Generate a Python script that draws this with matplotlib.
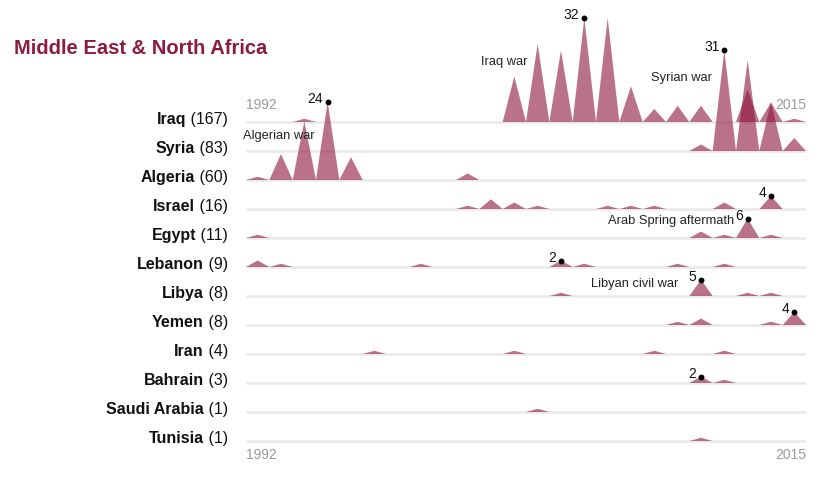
import matplotlib
matplotlib.use("Agg")
import matplotlib.pyplot as plt

plt.rcParams['font.family'] = ['Liberation Sans', 'DejaVu Sans']

# ---------------- data ----------------
years = list(range(1992, 2016))
countries = ["Iraq", "Syria", "Algeria", "Israel", "Egypt", "Lebanon",
             "Libya", "Yemen", "Iran", "Bahrain", "Saudi Arabia", "Tunisia"]
totals = [167, 83, 60, 16, 11, 9, 8, 8, 4, 3, 1, 1]

#          92 93 94 95 96 97 98 99 00 01 02 03 04 05 06 07 08 09 10 11 12 13 14 15
iraq    = [0, 0, 1, 0, 0, 0, 0, 0, 0, 0, 0, 14, 24, 22, 32, 32, 11, 4, 5, 5, 0, 10, 6, 1]
syria   = [0, 0, 0, 0, 0, 0, 0, 0, 0, 0, 0, 0, 0, 0, 0, 0, 0, 0, 0, 2, 31, 28, 15, 4]
algeria = [1, 8, 18, 24, 7, 0, 0, 0, 0, 2, 0, 0, 0, 0, 0, 0, 0, 0, 0, 0, 0, 0, 0, 0]
israel  = [0, 0, 0, 0, 0, 0, 0, 0, 0, 1, 3, 2, 1, 0, 0, 1, 1, 1, 0, 0, 2, 0, 4, 0]
egypt   = [1, 0, 0, 0, 0, 0, 0, 0, 0, 0, 0, 0, 0, 0, 0, 0, 0, 0, 0, 2, 1, 6, 1, 0]
lebanon = [2, 1, 0, 0, 0, 0, 0, 1, 0, 0, 0, 0, 0, 2, 1, 0, 0, 0, 1, 0, 1, 0, 0, 0]
libya   = [0, 0, 0, 0, 0, 0, 0, 0, 0, 0, 0, 0, 0, 1, 0, 0, 0, 0, 0, 5, 0, 1, 1, 0]
yemen   = [0, 0, 0, 0, 0, 0, 0, 0, 0, 0, 0, 0, 0, 0, 0, 0, 0, 0, 1, 2, 0, 0, 1, 4]
iran    = [0, 0, 0, 0, 0, 1, 0, 0, 0, 0, 0, 1, 0, 0, 0, 0, 0, 1, 0, 0, 1, 0, 0, 0]
bahrain = [0, 0, 0, 0, 0, 0, 0, 0, 0, 0, 0, 0, 0, 0, 0, 0, 0, 0, 0, 2, 1, 0, 0, 0]
saudi   = [0, 0, 0, 0, 0, 0, 0, 0, 0, 0, 0, 0, 1, 0, 0, 0, 0, 0, 0, 0, 0, 0, 0, 0]
tunisia = [0, 0, 0, 0, 0, 0, 0, 0, 0, 0, 0, 0, 0, 0, 0, 0, 0, 0, 0, 1, 0, 0, 0, 0]
series = [iraq, syria, algeria, israel, egypt, lebanon, libya, yemen,
          iran, bahrain, saudi, tunisia]

# highlighted peaks (country, year)
peaks = [("Algeria", 1995), ("Iraq", 2006), ("Syria", 2012), ("Israel", 2014),
         ("Egypt", 2013), ("Lebanon", 2005), ("Libya", 2011), ("Yemen", 2015),
         ("Bahrain", 2011)]

notes = ["Iraq war", "Syrian war", "Algerian war", "Arab Spring aftermath",
         "Libyan civil war"]

# ---------------- layout ----------------
W, H = 826, 478
fig = plt.figure(figsize=(W / 100, H / 100), dpi=100)
X0, X1 = 246, 806
PXU = 3.25          # pixels per unit
ROW0, ROWSTEP = 122, 29

ax = fig.add_axes([X0 / W, 0, (X1 - X0) / W, 1])
ax.set_xlim(years[0] - 0.5, years[-1] + 0.5)
ax.set_ylim(0, H / PXU)
ax.axis('off')

SP = (X1 - X0) / len(years)


def fx(px):
    return years[0] - 0.5 + (px - X0) / SP


def fy(py):
    return (H - py) / PXU


TRI = (0.55, 0.08, 0.24)
ALPHA = 0.6
GRID = '#e9e9e9'

bases = {}
for i, (name, vals) in enumerate(zip(countries, series)):
    py = ROW0 + ROWSTEP * i
    b = fy(py)
    bases[name] = b
    ax.plot([years[0] - 0.5, years[-1] + 0.5], [b, b], color=GRID, lw=1.8,
            zorder=1, solid_capstyle='butt')
    for yr, v in zip(years, vals):
        if v > 0:
            ax.fill([yr - 0.5, yr, yr + 0.5], [b, b + v, b], color=TRI,
                    alpha=ALPHA, lw=0, zorder=2)

# peak dots and numbers
for name, yr in peaks:
    v = series[countries.index(name)][years.index(yr)]
    b = bases[name]
    ax.plot([yr], [b + v], 'o', color='black', ms=3.2, zorder=5)
    ax.annotate(str(v), (yr, b + v), xytext=(-5, 3), textcoords='offset pixels',
                ha='right', va='center', fontsize=10, color='#111111', zorder=6)

# text notes
note_pos = {"Iraq war": (481, 62), "Syrian war": (651, 78),
            "Algerian war": (243, 136), "Arab Spring aftermath": (608, 221),
            "Libyan civil war": (591, 284)}
for n in notes:
    px, py = note_pos[n]
    ax.text(fx(px), fy(py), n, ha='left', va='center', fontsize=9.3,
            color='#222222', zorder=6, clip_on=False)

# year labels
for py in (105, 455):
    ax.text(fx(X0), fy(py), str(years[0]), ha='left', va='center',
            fontsize=10, color='#9a9a9a')
    ax.text(fx(X1), fy(py), str(years[-1]), ha='right', va='center',
            fontsize=10, color='#9a9a9a')

# title
fig.text(14 / W, 1 - 48 / H, "Middle East & North Africa", ha='left',
         va='center', fontsize=14.5, fontweight='bold', color='#8c1b3f')

# country labels
r = fig.canvas.get_renderer()
for i, (name, tot) in enumerate(zip(countries, totals)):
    py = ROW0 + ROWSTEP * i - 2.5
    t = fig.text(228 / W, 1 - py / H, f"\u00a0({tot})", ha='right', va='center',
                 fontsize=11.5, color='#111111')
    bb = t.get_window_extent(renderer=r)
    fig.text(bb.x0 / W, 1 - py / H, name, ha='right', va='center',
             fontsize=11.5, fontweight='bold', color='#111111')

fig.savefig('out.png', dpi=100)
